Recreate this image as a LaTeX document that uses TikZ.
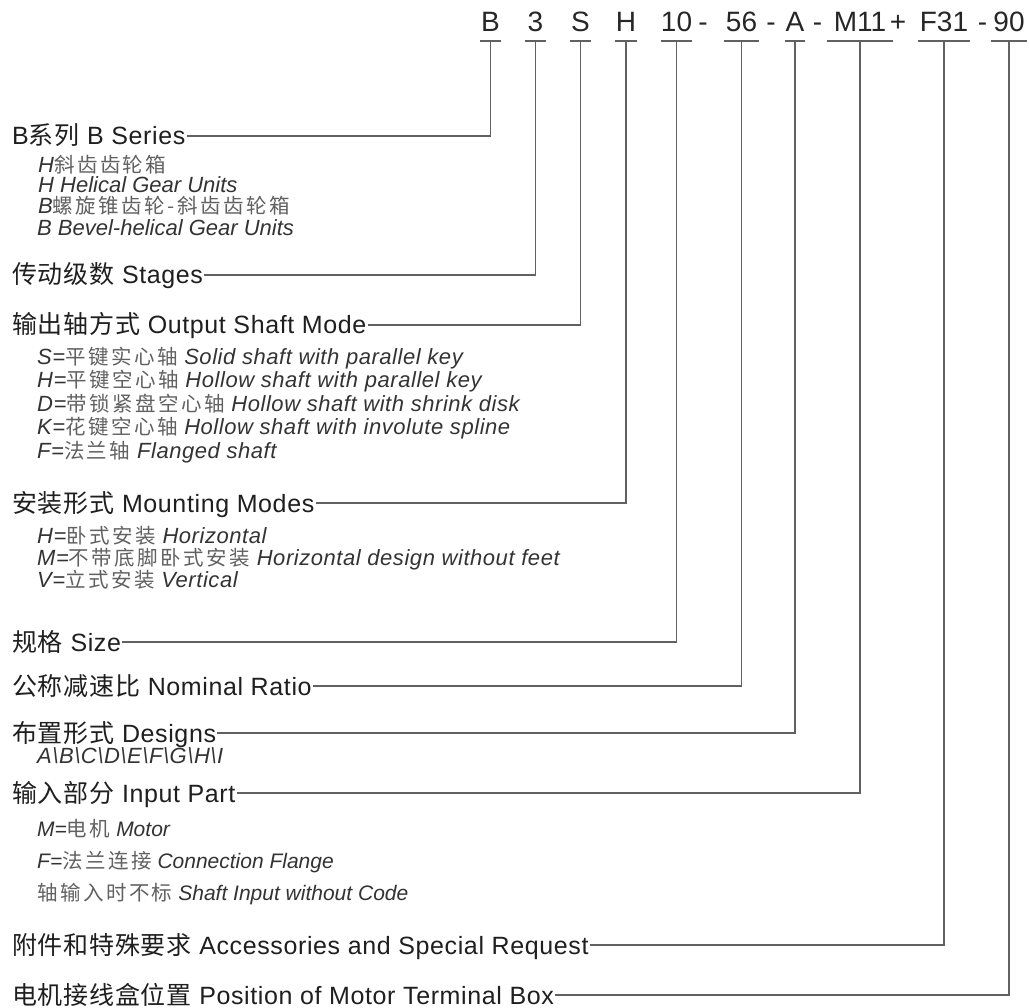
\documentclass[tikz,border=0pt]{standalone}
\usepackage{fontspec}
\setmainfont{Liberation Sans}
\newfontfamily\headfont[LetterSpace=2.5]{Liberation Sans}
\newfontfamily\subfont[LetterSpace=2.5]{Liberation Sans}
\newfontfamily\cjkhead[LetterSpace=3]{Noto Sans CJK SC}
\newfontfamily\cjksub[LetterSpace=12]{Noto Sans CJK SC}
\usetikzlibrary{positioning}
\newcommand{\zh}[1]{{\upshape\cjkhead #1}}
\newcommand{\zhs}[1]{{\upshape\cjksub\fontsize{20.5}{22}\selectfont\color{black!62}#1}}
\tikzstyle{headtext} = [anchor=west, inner xsep=1pt, inner ysep=0pt, text height=18pt, text depth=0pt, font=\headfont\fontsize{25}{28}\selectfont, text=black!88]
\tikzstyle{subtext} = [anchor=west, inner sep=0pt, text height=16pt, text depth=0pt, font=\fontsize{22}{24}\selectfont\itshape, text=black!80]
\tikzstyle{widesub} = [subtext, font=\subfont\fontsize{22}{24}\selectfont\itshape]
\tikzstyle{smallsub} = [subtext, font=\fontsize{21}{23}\selectfont\itshape]
\tikzstyle{codepart} = [anchor=south, inner xsep=0pt, inner ysep=9pt, text height=20pt, text depth=0pt, font=\fontsize{28}{30}\selectfont, text=black!85]
\tikzstyle{joiner} = [anchor=base, inner sep=0pt, font=\fontsize{28}{30}\selectfont, text=black!85]
\tikzstyle{leader} = [draw=black!62, line width=1.5pt]

\begin{document}
\begin{tikzpicture}[x=1pt, y=-1pt]
\fill[white] (0,0) rectangle (1029,1008);
\useasboundingbox (0,0) rectangle (1029,1008);

% model code
\node[codepart, minimum width=21pt] (cB) at (490.5,41) {B};
\node[codepart, minimum width=21pt] (c3) at (535.5,41) {3};
\node[codepart, minimum width=21pt] (cS) at (580.5,41) {S};
\node[codepart, minimum width=22pt] (cH) at (626,41) {H};
\node[codepart, minimum width=28pt] (c10) at (676.5,41) {10};
\node[joiner] (j1) at (703,32) {-};
\node[codepart, minimum width=35pt] (c56) at (741.5,41) {56};
\node[joiner] (j2) at (771,32) {-};
\node[codepart, minimum width=20pt] (cA) at (795,41) {A};
\node[joiner] (j3) at (817.5,32) {-};
\node[codepart, minimum width=65pt] (cM) at (860,41) {M11};
\node[joiner] (j4) at (898,32) {+};
\node[codepart, minimum width=52pt] (cF) at (944,41) {F31};
\node[joiner] (j5) at (982.5,32) {-};
\node[codepart, minimum width=35pt] (c90) at (1009,41) {90};

% headings
\node[headtext] (bs) at (11,136) {B\zh{系列} B Series};
\node[headtext] (st) at (11,275) {\zh{传动级数} Stages};
\node[headtext] (os) at (11,325) {\zh{输出轴方式} Output Shaft Mode};
\node[headtext] (mm) at (11,503) {\zh{安装形式} Mounting Modes};
\node[headtext] (sz) at (11,642) {\zh{规格} Size\hspace{2pt}};
\node[headtext] (nr) at (11,686) {\zh{公称减速比} Nominal Ratio};
\node[headtext] (ds) at (11,733) {\zh{布置形式} Designs\hspace{2pt}};
\node[headtext] (ip) at (11,793) {\zh{输入部分} Input Part};
\node[headtext] (as) at (11,945) {\zh{附件和特殊要求} Accessories and Special Request};
\node[headtext] (tb) at (11,995) {\zh{电机接线盒位置} Position of Motor Terminal Box\hspace{3pt}};

% options
\node[subtext] (b1) at (38,165) {H\zhs{斜齿齿轮箱}};
\node[subtext] (b2) at (38,185) {H Helical Gear Units};
\node[subtext] (b3) at (38,206) {B\zhs{螺旋锥齿轮-斜齿齿轮箱}};
\node[subtext] (b4) at (37,228) {B Bevel-helical Gear Units};
\node[widesub] (o1) at (37,357) {S=\zhs{平键实心轴} Solid shaft with parallel key};
\node[widesub] (o2) at (37,380) {H=\zhs{平键空心轴} Hollow shaft with parallel key};
\node[widesub] (o3) at (37,404) {D=\zhs{带锁紧盘空心轴} Hollow shaft with shrink disk};
\node[widesub] (o4) at (37,427) {K=\zhs{花键空心轴} Hollow shaft with involute spline};
\node[widesub] (o5) at (37,451) {F=\zhs{法兰轴} Flanged shaft};
\node[widesub] (m1) at (37,535) {H=\zhs{卧式安装} Horizontal};
\node[widesub] (m2) at (37,557) {M=\zhs{不带底脚卧式安装} Horizontal design without feet};
\node[widesub] (m3) at (37,579) {V=\zhs{立式安装} Vertical};
\node[widesub] (d1) at (37,755) {A\textbackslash B\textbackslash C\textbackslash D\textbackslash E\textbackslash F\textbackslash G\textbackslash H\textbackslash I};
\node[smallsub] (i1) at (37,828) {M=\zhs{电机} Motor};
\node[smallsub] (i2) at (37,860) {F=\zhs{法兰连接} Connection Flange};
\node[smallsub] (i3) at (37,892) {\zhs{轴输入时不标} Shaft Input without Code};

% leaders
\foreach \c in {cB,c3,cS,cH,c10,c56,cA,cM,cF,c90}
  \draw[leader] (\c.south west) -- (\c.south east);
\foreach \h/\c in {bs/cB,st/c3,os/cS,mm/cH,sz/c10,nr/c56,ds/cA,ip/cM,as/cF,tb/c90}
  \draw[leader] (\h.east) -| (\c.south);
\end{tikzpicture}
\end{document}
